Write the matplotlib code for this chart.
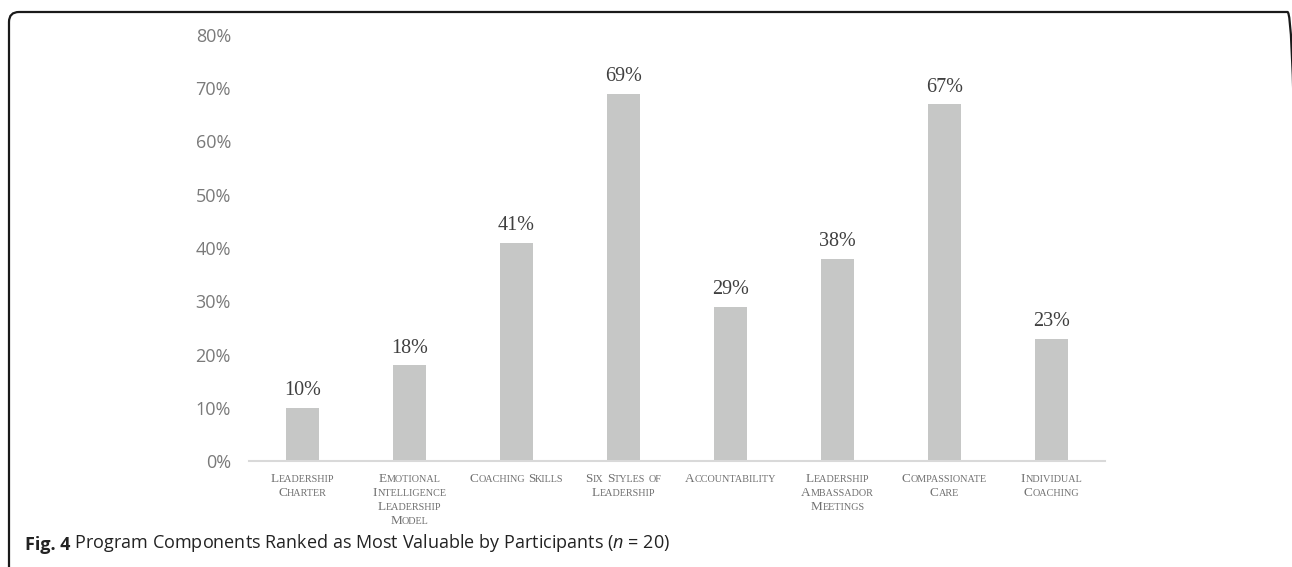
import matplotlib
matplotlib.use("Agg")
import matplotlib.pyplot as plt
from matplotlib.patches import FancyBboxPatch
from matplotlib.offsetbox import TextArea, HPacker, VPacker, AnnotationBbox
from matplotlib.ticker import PercentFormatter

categories = [
    "Leadership\nCharter",
    "Emotional\nIntelligence\nLeadership\nModel",
    "Coaching Skills",
    "Six Styles of\nLeadership",
    "Accountability",
    "Leadership\nAmbassador\nMeetings",
    "Compassionate\nCare",
    "Individual\nCoaching",
]
values = [10, 18, 41, 69, 29, 38, 67, 23]
yticks = [0, 10, 20, 30, 40, 50, 60, 70, 80]

plt.rcParams['mathtext.fontset'] = 'custom'
plt.rcParams['mathtext.rm'] = 'Open Sans'
plt.rcParams['mathtext.it'] = 'Open Sans:italic'

W, H = 1292, 567
fig = plt.figure(figsize=(W / 100, H / 100), dpi=100)

# rounded frame in inches (right and bottom sides fall outside the picture)
frame = FancyBboxPatch((0.09, -1.0), 12.975 - 0.09, 1.0 + (H - 12) / 100,
                       boxstyle="round,pad=0,rounding_size=0.1",
                       transform=fig.dpi_scale_trans, fill=False,
                       edgecolor="#1a1a1a", linewidth=1.6)
fig.patches.append(frame)

ax = fig.add_axes([249 / W, 106 / H, (1105 - 249) / W, (532 - 106) / H])
x = list(range(len(categories)))
ax.bar(x, values, width=0.31, color="#c6c7c6", zorder=2)
ax.set_xlim(-0.5, len(categories) - 0.5)
ax.set_ylim(0, 80)
ax.set_yticks(yticks)
ax.yaxis.set_major_formatter(PercentFormatter(decimals=0))
for s in ["top", "right", "left"]:
    ax.spines[s].set_visible(False)
ax.spines["bottom"].set_color("#d9d9d9")
ax.spines["bottom"].set_linewidth(1.5)
ax.tick_params(axis="y", length=0, pad=13, labelsize=13, labelcolor="#7a7a7a")
ax.tick_params(axis="x", length=0, labelbottom=False)
for lbl in ax.get_yticklabels():
    lbl.set_family("Open Sans")

for xi, v in zip(x, values):
    ax.annotate(f"{v}%", (xi, v), xytext=(0, 9), textcoords="offset points",
                ha="center", va="baseline", fontsize=14.5,
                family="Liberation Serif", color="#404040")

BIG, SMALL = 9.5, 7.3
col = "#707070"


def word_box(word):
    parts = []
    cur, cur_big = "", None
    for ch in word:
        big = ch.isupper() or ch.isdigit()
        if cur_big is None or big == cur_big:
            cur += ch.upper()
            cur_big = big
        else:
            parts.append((cur, cur_big))
            cur, cur_big = ch.upper(), big
    if cur:
        parts.append((cur, cur_big))
    children = [TextArea(t, textprops=dict(fontsize=BIG if b else SMALL,
                                           family="Liberation Serif", color=col))
                for t, b in parts]
    return HPacker(children=children, align="baseline", pad=0, sep=0)


for xi, cat in zip(x, categories):
    lines = []
    for line in cat.split("\n"):
        words = [word_box(w) for w in line.split(" ")]
        lines.append(HPacker(children=words, align="baseline", pad=0, sep=2.2))
    box = VPacker(children=lines, align="center", pad=0, sep=1.4)
    ab = AnnotationBbox(box, (xi, 0), xycoords=("data", "axes fraction"),
                        xybox=(0, -9), boxcoords="offset points",
                        box_alignment=(0.5, 1), frameon=False, pad=0)
    ax.add_artist(ab)

t1 = fig.text(25 / W, 1 - 550 / H, "Fig. 4", fontsize=13, weight="bold",
              family="Open Sans", color="#222222", va="baseline")
fig.canvas.draw()
ax.annotate(" Program Components Ranked as Most Valuable by Participants ($n$ = 20)",
            xy=(1, 0), xycoords=t1, xytext=(0, 0), textcoords="offset points",
            fontsize=13, family="Open Sans", color="#222222",
            va="bottom", ha="left", annotation_clip=False)

fig.savefig("out.png", dpi=100)
